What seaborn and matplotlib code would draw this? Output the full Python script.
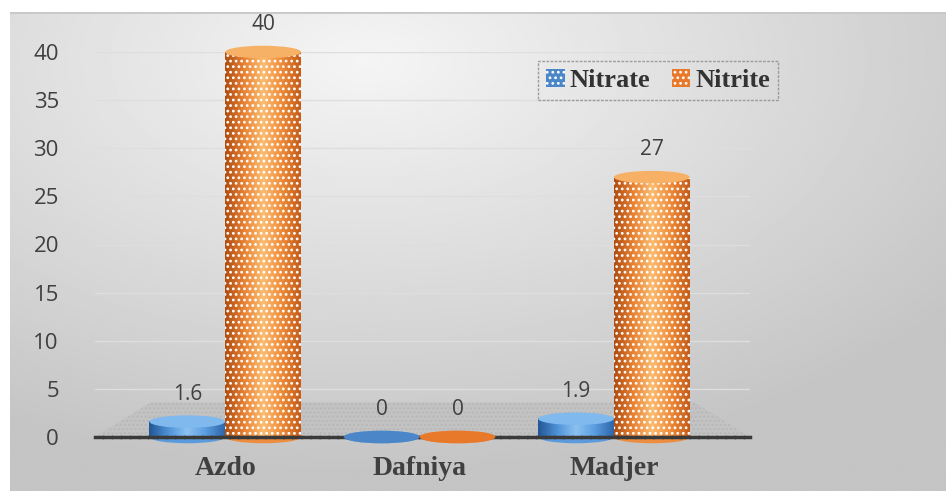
import numpy as np
import pandas as pd
import matplotlib
matplotlib.use("Agg")
import matplotlib.pyplot as plt
from matplotlib.patches import Ellipse, Polygon
from matplotlib.colors import LinearSegmentedColormap
import seaborn as sns

sites = ["Azdo", "Dafniya", "Madjer"]
nitrate = [1.6, 0, 1.9]
nitrite = [40, 0, 27]
series = ["Nitrate", "Nitrite"]
colors = {"Nitrate": "#4a86c8", "Nitrite": "#e8782a"}

df = pd.DataFrame({
    "site": sites * 2,
    "value": nitrate + nitrite,
    "ion": ["Nitrate"] * 3 + ["Nitrite"] * 3,
})

sns.set_style("white")
plt.rcParams["hatch.linewidth"] = 1.2
fig = plt.figure(figsize=(9.46, 4.91), dpi=100)
fig.patch.set_facecolor("white")

# grey gradient backdrop
bg = fig.add_axes([10 / 946, 0, 936 / 946, 479 / 491], zorder=-10)
yy, xx = np.mgrid[0:1:200j, 0:1:400j]
d = np.sqrt(((xx - 0.38) / 1.0) ** 2 + ((yy - 0.1) / 1.1) ** 2)
shade = np.clip(0.96 - 0.24 * d, 0.77, 0.96)
bg.imshow(shade, cmap="gray", vmin=0, vmax=1, aspect="auto", extent=(0, 1, 0, 1), origin="upper")
bg.axhline(1, color="#c8c8c8", lw=2)
bg.set_axis_off()

ax = fig.add_axes([95 / 946, 54 / 491, 655 / 946, 385 / 491])
ax.patch.set_alpha(0)

sns.barplot(data=df, x="site", y="value", hue="ion", order=sites, hue_order=series,
            palette=colors, width=0.78, ax=ax, legend=False)

# floor of the pseudo 3d plot
floor = Polygon([(0, 0), (1, 0), (0.915, 0.09), (0.085, 0.09)], closed=True,
                transform=ax.transAxes, facecolor="#c3c3c3", edgecolor="#b8b8b8",
                lw=0, hatch="....", zorder=0.5)
ax.add_patch(floor)

cyl = {
    "Nitrate": LinearSegmentedColormap.from_list("b", ["#245796", "#4f92d8", "#8cc2f2", "#5a9de0", "#2f67aa"]),
    "Nitrite": LinearSegmentedColormap.from_list("o", ["#b04e12", "#e98233", "#fbbd72", "#ef8c3a", "#c45c18"]),
}
grad = np.linspace(0, 1, 64).reshape(1, -1)
ell_h = 1.3
for cont, name in zip(ax.containers, series):
    for p in cont.patches:
        x0, w, h = p.get_x(), p.get_width(), p.get_height()
        base = colors[name]
        # bottom half ellipse
        ax.add_patch(Ellipse((x0 + w / 2, 0), w, ell_h, facecolor=cyl[name](0.3),
                             edgecolor="none", zorder=2, clip_on=False))
        if h > 0:
            ax.imshow(grad, cmap=cyl[name], aspect="auto", interpolation="bilinear",
                      extent=(x0, x0 + w, 0, h), zorder=2.5)
            p.set_facecolor("none")
            p.set_edgecolor("white")
            p.set_linewidth(0)
            p.set_hatch("..." if h > 5 else "")
            p.set_zorder(3)
        else:
            p.set_visible(False)
        ax.add_patch(Ellipse((x0 + w / 2, h), w, ell_h,
                             facecolor=cyl[name](0.45) if h > 0 else base,
                             edgecolor="none", zorder=4, clip_on=False))
    ax.bar_label(cont, labels=[f"{v:g}" for v in cont.datavalues], padding=12,
                 fontsize=15, color="#404040", fontfamily="Open Sans")

ax.set_xlim(-0.67, 2.7)
ax.set_ylim(0, 40)
ax.set_yticks(range(0, 41, 5))
ax.set_xlabel("")
ax.set_ylabel("")
ax.grid(axis="y", color="#dedede", lw=1)
ax.set_axisbelow(True)
for s in ["top", "right", "left"]:
    ax.spines[s].set_visible(False)
ax.spines["bottom"].set_color("#3a3a3a")
ax.spines["bottom"].set_linewidth(2.5)
ax.spines["bottom"].set_linestyle((0, (2, 0.6)))

ax.tick_params(axis="y", length=0, pad=26, labelsize=16, labelcolor="#404040")
for t in ax.get_yticklabels():
    t.set_fontfamily("Open Sans")
ax.tick_params(axis="x", length=0, pad=14)
for t in ax.get_xticklabels():
    t.set_fontfamily("Liberation Serif")
    t.set_fontweight("bold")
    t.set_fontsize(20)
    t.set_color("#404040")

handles = [plt.Rectangle((0, 0), 1, 1, facecolor=colors[n], edgecolor="white",
                         hatch="...", lw=0) for n in series]
leg = fig.legend(handles, series, loc="upper right", bbox_to_anchor=(778 / 946, 1 - 61 / 491),
                 borderaxespad=0, ncol=2, frameon=True, fancybox=False,
                 handlelength=0.7, handleheight=0.7,
                 handletextpad=0.2, columnspacing=0.8, borderpad=0.3,
                 prop={"family": "Liberation Serif", "weight": "bold", "size": 19})
for t in leg.get_texts():
    t.set_color("#333333")
fr = leg.get_frame()
fr.set_facecolor("none")
fr.set_edgecolor("#8a8a8a")
fr.set_linestyle((0, (2, 1)))
fr.set_linewidth(1)

fig.savefig("out.png", dpi=100)
